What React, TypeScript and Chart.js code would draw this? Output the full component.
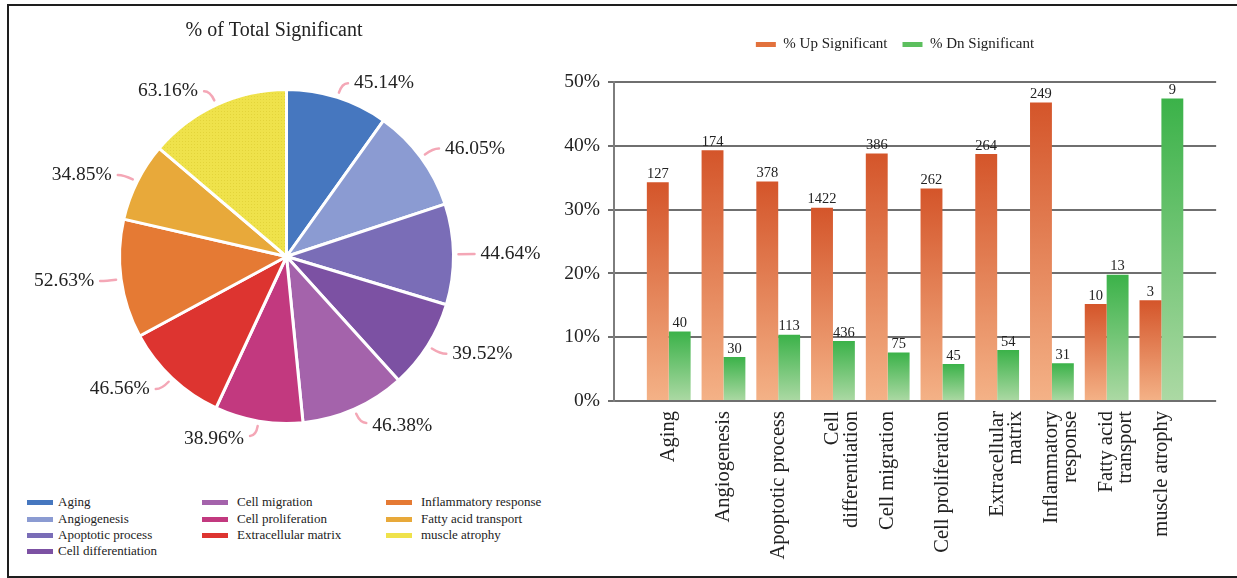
import React, { useEffect, useRef } from "react";
import { Chart, registerables } from "chart.js";

Chart.register(...registerables);

const FONT = '"Liberation Serif", "Times New Roman", serif';

const categories = [
  "Aging",
  "Angiogenesis",
  "Apoptotic process",
  "Cell differentiation",
  "Cell migration",
  "Cell proliferation",
  "Extracellular matrix",
  "Inflammatory response",
  "Fatty acid transport",
  "muscle atrophy",
];
const axisLabels: (string | string[])[] = [
  "Aging",
  "Angiogenesis",
  "Apoptotic process",
  ["Cell", "differentiation"],
  "Cell migration",
  "Cell proliferation",
  ["Extracellular", "matrix"],
  ["Inflammatory", "response"],
  ["Fatty acid", "transport"],
  "muscle atrophy",
];
const totalSignificant = [45.14, 46.05, 44.64, 39.52, 46.38, 38.96, 46.56, 52.63, 34.85, 63.16];
const sliceColors = [
  "#4677bf",
  "#8b9bd2",
  "#7a6db7",
  "#7c51a3",
  "#a463ab",
  "#c2397f",
  "#dd3430",
  "#e57a34",
  "#e8a93a",
  "#efe24b",
];
const upPercent = [34.3, 39.3, 34.4, 30.3, 38.8, 33.3, 38.7, 46.8, 15.2, 15.8];
const dnPercent = [10.9, 6.9, 10.4, 9.4, 7.6, 5.8, 8.0, 5.9, 19.8, 47.4];
const upCounts = [127, 174, 378, 1422, 386, 262, 264, 249, 10, 3];
const dnCounts = [40, 30, 113, 436, 75, 45, 54, 31, 13, 9];
const seriesNames = ["% Up Significant", "% Dn Significant"];
const yMax = 50;
const yStep = 10;

function barGradient(ctx: any, top: string, bottom: string, solid: string) {
  const chart = ctx.chart;
  const v = ctx.raw;
  if (ctx.type !== "data" || v == null || !chart.chartArea) return solid;
  const ys = chart.scales.y;
  const y0 = ys.getPixelForValue(v);
  const y1 = ys.getPixelForValue(0);
  const g = chart.ctx.createLinearGradient(0, y0, 0, y1);
  g.addColorStop(0, top);
  g.addColorStop(1, bottom);
  return g;
}

function makeDotPattern(base: string, dot: string) {
  const c = document.createElement("canvas");
  c.width = 3;
  c.height = 3;
  const x = c.getContext("2d")!;
  x.fillStyle = base;
  x.fillRect(0, 0, 3, 3);
  x.fillStyle = dot;
  x.fillRect(1, 1, 1, 1);
  return x.createPattern(c, "repeat");
}

const pieDecor = {
  id: "pieDecor",
  afterDatasetsDraw(chart: any) {
    const c = chart.ctx;
    const meta = chart.getDatasetMeta(0);
    c.save();
    // title
    c.fillStyle = "#222";
    c.font = `20px ${FONT}`;
    c.textAlign = "center";
    c.textBaseline = "alphabetic";
    c.fillText("% of Total Significant", 264, 28);
    c.font = `19.5px ${FONT}`;
    c.textBaseline = "middle";
    meta.data.forEach((arc: any, i: number) => {
      const p = arc.getProps(["x", "y", "startAngle", "endAngle", "outerRadius"], true);
      const mid = (p.startAngle + p.endAngle) / 2;
      const cos = Math.cos(mid);
      const sin = Math.sin(mid);
      const side = cos >= 0 ? 1 : -1;
      const r = p.outerRadius;
      const sx = p.x + (r + 5) * cos;
      const sy = p.y + (r + 5) * sin;
      const ex = p.x + (r + 15) * cos;
      const ey = p.y + (r + 15) * sin;
      c.strokeStyle = "#f4a7b6";
      c.lineWidth = 2.5;
      c.lineCap = "round";
      c.beginPath();
      c.moveTo(sx, sy);
      c.quadraticCurveTo(ex, ey, ex + side * 6, ey);
      c.stroke();
      c.fillStyle = "#222";
      c.textAlign = side > 0 ? "left" : "right";
      c.fillText(totalSignificant[i].toFixed(2) + "%", ex + side * 12, ey + (sin > 0.85 ? 3 : 0));
    });
    c.restore();
  },
};

const legendGap = {
  id: "legendGap",
  beforeInit(chart: any) {
    const lg = chart.legend;
    if (!lg) return;
    const fit = lg.fit;
    lg.fit = function () {
      fit.call(this);
      this.height += 20;
    };
    const draw = lg.draw;
    lg.draw = function () {
      const c = this.ctx;
      c.save();
      c.translate(5, 0);
      draw.call(this);
      c.restore();
    };
  },
};

const valueLabels = {
  id: "valueLabels",
  afterDatasetsDraw(chart: any) {
    const c = chart.ctx;
    c.save();
    c.fillStyle = "#222";
    c.font = `14.5px ${FONT}`;
    c.textAlign = "center";
    c.textBaseline = "bottom";
    chart.data.datasets.forEach((ds: any, di: number) => {
      const meta = chart.getDatasetMeta(di);
      meta.data.forEach((bar: any, i: number) => {
        const n = ds.counts[i];
        if (n == null) return;
        c.fillText(String(n), bar.x, bar.y - 1);
      });
    });
    c.restore();
  },
};

export default function App() {
  const pieRef = useRef<HTMLCanvasElement>(null);
  const barRef = useRef<HTMLCanvasElement>(null);

  useEffect(() => {
    const colors: any[] = sliceColors.slice(0, 9);
    colors.push(makeDotPattern(sliceColors[9], "#e3d43a"));
    const pie = new Chart(pieRef.current!, {
      type: "pie",
      data: {
        labels: categories,
        datasets: [
          {
            data: totalSignificant,
            backgroundColor: colors,
            borderColor: "#ffffff",
            borderWidth: 3,
            hoverOffset: 0,
          } as any,
        ],
      },
      options: {
        responsive: false,
        animation: false,
        layout: { padding: { left: 108, right: 105, top: 80, bottom: 53 } },
        plugins: {
          legend: { display: false },
          tooltip: { enabled: false },
          title: { display: false },
        },
      },
      plugins: [pieDecor],
    });

    const pad = (a: any[]) => [null, ...a, null];
    const bar = new Chart(barRef.current!, {
      type: "bar",
      data: {
        labels: ["", ...axisLabels, ""] as any,
        datasets: [
          {
            label: seriesNames[0],
            data: pad(upPercent),
            counts: pad(upCounts),
            backgroundColor: (ctx: any) => barGradient(ctx, "#d4552a", "#f4b287", "#e2713c"),
            borderWidth: 0,
          } as any,
          {
            label: seriesNames[1],
            data: pad(dnPercent),
            counts: pad(dnCounts),
            backgroundColor: (ctx: any) => barGradient(ctx, "#3bb249", "#acd9a4", "#5cbf5e"),
            borderWidth: 0,
          } as any,
        ],
      },
      options: {
        responsive: false,
        animation: false,
        datasets: { bar: { categoryPercentage: 0.8, barPercentage: 1.0 } } as any,
        layout: { padding: { top: 14, right: 17, left: 0, bottom: 0 } },
        scales: {
          x: {
            offset: false,
            grid: { display: false },
            border: { display: false },
            ticks: {
              autoSkip: false,
              minRotation: 90,
              maxRotation: 90,
              color: "#222",
              padding: 2,
              font: { family: FONT, size: 20.5, lineHeight: 0.92 },
            },
            afterFit: (s: any) => {
              s.height = 172;
            },
          },
          y: {
            min: 0,
            max: yMax,
            ticks: {
              stepSize: yStep,
              color: "#222",
              padding: 8,
              font: { family: FONT, size: 19.5 },
              callback: (v: any) => v + "%",
            },
            grid: { color: "#6f6f6f", lineWidth: 2, tickLength: 6 },
            border: { color: "#7d7d7d", width: 2 },
            afterFit: (s: any) => {
              s.width = 54;
            },
          },
        },
        plugins: {
          legend: {
            position: "top",
            labels: {
              boxWidth: 20,
              boxHeight: 5,
              padding: 15,
              color: "#222",
              font: { family: FONT, size: 15 },
            },
          },
          tooltip: { enabled: false },
        },
      } as any,
      plugins: [legendGap, valueLabels],
    });

    return () => {
      pie.destroy();
      bar.destroy();
    };
  }, []);

  const colLeft = [27, 202, 386];
  const textLeft = [58, 237, 421];
  const rowY = [502, 519, 535, 551];

  return (
    <div
      style={{
        position: "absolute",
        left: 0,
        top: 0,
        width: 1237,
        height: 578,
        overflow: "hidden",
        background: "#fff",
        fontFamily: FONT,
      }}
    >
      <div
        style={{
          position: "absolute",
          left: 7,
          top: 4,
          width: 1240,
          height: 570,
          borderTop: "2px solid #1e1e1e",
          borderLeft: "2px solid #1e1e1e",
          borderBottom: "2px solid #1e1e1e",
        }}
      />
      <canvas
        ref={pieRef}
        width={550}
        height={470}
        style={{ position: "absolute", left: 10, top: 8, width: 550, height: 470 }}
      />
      <canvas
        ref={barRef}
        width={677}
        height={565}
        style={{ position: "absolute", left: 560, top: 8, width: 677, height: 565 }}
      />
      {categories.map((name, i) => {
        const col = i < 4 ? 0 : i < 7 ? 1 : 2;
        const row = i < 4 ? i : i < 7 ? i - 4 : i - 7;
        const y = rowY[row];
        return (
          <React.Fragment key={name}>
            <div
              style={{
                position: "absolute",
                left: colLeft[col],
                top: y - 2.5,
                width: 26,
                height: 5,
                background: sliceColors[i],
              }}
            />
            <div
              style={{
                position: "absolute",
                left: textLeft[col],
                top: y - 8,
                fontSize: 13,
                lineHeight: "16px",
                color: "#222",
                whiteSpace: "nowrap",
              }}
            >
              {name}
            </div>
          </React.Fragment>
        );
      })}
    </div>
  );
}
